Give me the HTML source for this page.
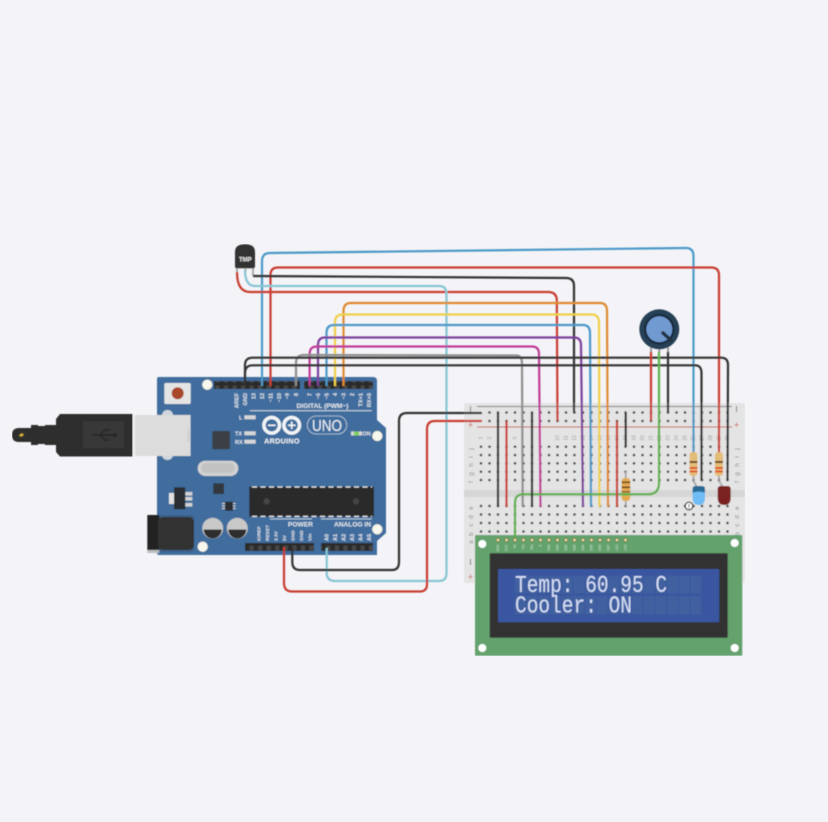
<!DOCTYPE html>
<html lang="en"><head><meta charset="utf-8"><title>Arduino temperature circuit</title>
<style>
html,body{margin:0;padding:0;background:#f4f4f8}
svg{display:block}
text{font-family:"Liberation Sans",sans-serif}
.w{fill:none;stroke-width:2.2;stroke-linecap:butt}
.p{fill:#e4e8ee;font-size:5.6px;text-anchor:end;font-weight:bold}
.n{fill:#9a9a9a;font-size:5px;text-anchor:middle}
.r{fill:#888;font-size:6.5px;text-anchor:middle}
.l{fill:#cfe0d2;font-size:3.2px;text-anchor:end}
.h{fill:#e4e8ee;font-size:6.6px;font-weight:bold}
</style></head><body>
<svg width="828" height="822" viewBox="0 0 828 822" xmlns="http://www.w3.org/2000/svg">
<defs>
<pattern id="gU" x="476.75" y="442.53" width="8.5" height="8.33" patternUnits="userSpaceOnUse"><circle cx="4.25" cy="4.17" r="1.25" fill="#333"/></pattern>
<pattern id="gL" x="476.75" y="501.75" width="8.5" height="8.5" patternUnits="userSpaceOnUse"><circle cx="4.25" cy="4.25" r="1.25" fill="#333"/></pattern>
<pattern id="gR" x="476.75" y="408.25" width="8.5" height="8.5" patternUnits="userSpaceOnUse"><circle cx="4.25" cy="4.25" r="1.25" fill="#333"/></pattern>
<pattern id="pin" x="0" y="0" width="8.53" height="8" patternUnits="userSpaceOnUse"><rect x="2.2" y="1.5" width="4.2" height="5" fill="#474747"/></pattern>
<pattern id="cell" x="515" y="0" width="11.7" height="40" patternUnits="userSpaceOnUse"><rect width="10.6" height="40" fill="#41609f"/></pattern>
<filter id="soft" x="0" y="0" width="100%" height="100%"><feGaussianBlur stdDeviation="0.4"/></filter>
</defs>
<rect width="828" height="822" fill="#f4f4f8"/>
<g filter="url(#soft)">

<!-- breadboard -->
<rect x="464" y="403" width="281" height="180" rx="2" fill="#e4e4e4"/>
<rect x="464" y="490" width="281" height="7" fill="#d6d6d6"/>
<path d="M477 406.500H732M477 570H732" stroke="#777" stroke-width="1"/>
<path d="M477 427H732M477 581H732" stroke="#c9544c" stroke-width="1"/>
<rect x="485" y="408.250" width="247" height="17" fill="url(#gR)"/>
<rect x="476.750" y="442.530" width="255" height="41.650" fill="url(#gU)"/>
<rect x="476.750" y="501.750" width="255" height="42.500" fill="url(#gL)"/>
<g fill="#777" font-size="9" text-anchor="middle">
<rect x="470" y="406" width="1" height="6"/><rect x="736" y="406" width="1" height="6"/><rect x="470" y="559" width="1" height="6"/><rect x="736" y="559" width="1" height="6"/>
<text x="470.500" y="428" fill="#c9544c">+</text><text x="736.500" y="428" fill="#c9544c">+</text><text x="470.500" y="580" fill="#c9544c">+</text>
</g>
<g class="r">
<text transform="translate(473,449) rotate(-90)" class="r">j</text><text transform="translate(473,457) rotate(-90)" class="r">i</text><text transform="translate(473,465) rotate(-90)" class="r">h</text><text transform="translate(473,474) rotate(-90)" class="r">g</text><text transform="translate(473,482) rotate(-90)" class="r">f</text>
<text transform="translate(473,508) rotate(-90)" class="r">e</text><text transform="translate(473,517) rotate(-90)" class="r">d</text><text transform="translate(473,525) rotate(-90)" class="r">c</text><text transform="translate(473,534) rotate(-90)" class="r">b</text><text transform="translate(473,542) rotate(-90)" class="r">a</text>
<text transform="translate(739,449) rotate(-90)" class="r">j</text><text transform="translate(739,457) rotate(-90)" class="r">i</text><text transform="translate(739,465) rotate(-90)" class="r">h</text><text transform="translate(739,474) rotate(-90)" class="r">g</text><text transform="translate(739,482) rotate(-90)" class="r">f</text>
<text transform="translate(739,508) rotate(-90)" class="r">e</text><text transform="translate(739,517) rotate(-90)" class="r">d</text><text transform="translate(739,525) rotate(-90)" class="r">c</text><text transform="translate(739,534) rotate(-90)" class="r">b</text><text transform="translate(739,542) rotate(-90)" class="r">a</text>
</g>
<g>
<text class="n" transform="translate(482.500,438) rotate(-90)">1</text><text class="n" transform="translate(491,438) rotate(-90)">2</text><text class="n" transform="translate(516.500,438) rotate(-90)">5</text><text class="n" transform="translate(559,438) rotate(-90)">10</text><text class="n" transform="translate(567.500,438) rotate(-90)">11</text><text class="n" transform="translate(576,438) rotate(-90)">12</text><text class="n" transform="translate(584.500,438) rotate(-90)">13</text><text class="n" transform="translate(593,438) rotate(-90)">14</text><text class="n" transform="translate(601.500,438) rotate(-90)">15</text><text class="n" transform="translate(610,438) rotate(-90)">16</text><text class="n" transform="translate(618.500,438) rotate(-90)">17</text><text class="n" transform="translate(627,438) rotate(-90)">18</text><text class="n" transform="translate(635.500,438) rotate(-90)">19</text><text class="n" transform="translate(644,438) rotate(-90)">20</text><text class="n" transform="translate(652.500,438) rotate(-90)">21</text><text class="n" transform="translate(661,438) rotate(-90)">22</text><text class="n" transform="translate(669.500,438) rotate(-90)">23</text><text class="n" transform="translate(678,438) rotate(-90)">24</text><text class="n" transform="translate(686.500,438) rotate(-90)">25</text><text class="n" transform="translate(695,438) rotate(-90)">26</text><text class="n" transform="translate(703.500,438) rotate(-90)">27</text><text class="n" transform="translate(712,438) rotate(-90)">28</text><text class="n" transform="translate(720.500,438) rotate(-90)">29</text><text class="n" transform="translate(729,438) rotate(-90)">30</text>
</g>

<!-- Arduino -->
<path d="M159 377H373Q377 377 377 381V420L386 428V533L377 541V555H159Q157 555 157 553V379Q157 377 159 377Z" fill="#3f6d9e"/>
<rect x="147.500" y="515" width="46.500" height="37" rx="3" fill="#3a5f88"/>
<rect x="147.300" y="515" width="12" height="35" fill="#222"/>
<rect x="147.300" y="550" width="12" height="3" fill="#b9bcc0"/>
<rect x="158" y="517" width="36" height="33" rx="5" fill="#333"/>
<rect x="164.300" y="383" width="26.400" height="21" rx="1.500" fill="#e4e4e4"/>
<circle cx="177.700" cy="393.300" r="6" fill="#a8472b"/>
<g fill="#f7f7ee" stroke="#d8d8c8" stroke-width=".5">
<circle cx="207.300" cy="384.700" r="5"/><circle cx="377.300" cy="436" r="5"/><circle cx="377.300" cy="529.300" r="5"/><circle cx="202.700" cy="546.700" r="5"/>
</g>
<rect x="214" y="381" width="86" height="8" fill="#2b2b2b"/><rect x="214" y="381" width="86" height="8" fill="url(#pin)"/>
<rect x="304" y="381" width="69" height="8" fill="#2b2b2b"/><rect x="304" y="381" width="69" height="8" fill="url(#pin)"/>
<rect x="245" y="543" width="69" height="8" fill="#2b2b2b"/><rect x="245" y="543" width="69" height="8" fill="url(#pin)"/>
<rect x="321" y="543" width="52" height="8" fill="#2b2b2b"/><rect x="321" y="543" width="52" height="8" fill="url(#pin)"/>

<g>
<text class="p" transform="translate(238.500,393) rotate(-90)">AREF</text><text class="p" transform="translate(247,393) rotate(-90)">GND</text><text class="p" transform="translate(255.500,393) rotate(-90)">13</text><text class="p" transform="translate(264,393) rotate(-90)">12</text><text class="p" transform="translate(272.500,393) rotate(-90)">~11</text><text class="p" transform="translate(281,393) rotate(-90)">~10</text><text class="p" transform="translate(289,393) rotate(-90)">~9</text><text class="p" transform="translate(298,393) rotate(-90)">8</text>
<text class="p" transform="translate(311.500,393) rotate(-90)">7</text><text class="p" transform="translate(320,393) rotate(-90)">~6</text><text class="p" transform="translate(328.500,393) rotate(-90)">~5</text><text class="p" transform="translate(337,393) rotate(-90)">4</text><text class="p" transform="translate(345.500,393) rotate(-90)">~3</text><text class="p" transform="translate(354,393) rotate(-90)">2</text><text class="p" transform="translate(362.500,393) rotate(-90)">TX+1</text><text class="p" transform="translate(371,393) rotate(-90)">RX+0</text>
<text class="p" style="text-anchor:start;font-size:4.800px" transform="translate(260.500,541) rotate(-90)">IOREF</text><text class="p" style="text-anchor:start;font-size:4.800px" transform="translate(269,541) rotate(-90)">RESET</text><text class="p" style="text-anchor:start;font-size:4.800px" transform="translate(277.500,541) rotate(-90)">3.3V</text><text class="p" style="text-anchor:start;font-size:4.800px" transform="translate(286,541) rotate(-90)">5V</text><text class="p" style="text-anchor:start;font-size:4.800px" transform="translate(294.500,541) rotate(-90)">GND</text><text class="p" style="text-anchor:start;font-size:4.800px" transform="translate(303,541) rotate(-90)">GND</text><text class="p" style="text-anchor:start;font-size:4.800px" transform="translate(311.500,541) rotate(-90)">Vin</text>
<text class="p" style="text-anchor:start" transform="translate(328.500,541) rotate(-90)">A0</text><text class="p" style="text-anchor:start" transform="translate(337,541) rotate(-90)">A1</text><text class="p" style="text-anchor:start" transform="translate(345.500,541) rotate(-90)">A2</text><text class="p" style="text-anchor:start" transform="translate(354,541) rotate(-90)">A3</text><text class="p" style="text-anchor:start" transform="translate(362.500,541) rotate(-90)">A4</text><text class="p" style="text-anchor:start" transform="translate(371,541) rotate(-90)">A5</text>
</g>
<text class="h" x="296.500" y="408">DIGITAL (PWM~)</text>
<path d="M250 410.700H371.700M270 519H312M321 519H371.700" stroke="#dfe5ea" stroke-width=".8"/>
<text class="h" x="288" y="526.500">POWER</text>
<text class="h" x="334" y="526.500">ANALOG IN</text>
<g fill="#d6d6d6"><rect x="244.300" y="415.300" width="11.400" height="4"/><rect x="244.300" y="431.300" width="11.400" height="4"/><rect x="244.300" y="439.700" width="11.400" height="4"/></g>
<g fill="#e4e8ee" font-size="5.500" font-weight="bold"><text x="239" y="419.500">L</text><text x="235" y="435.500">TX</text><text x="235" y="443.800">RX</text><text x="362.500" y="435.500">ON</text></g>
<rect x="351" y="431.500" width="11" height="4" fill="#d6d6d6"/><rect x="354" y="431.500" width="5" height="4" fill="#7fd05a"/>
<g fill="none" stroke="#f2f4f6" stroke-width="3.500"><circle cx="271.700" cy="425.300" r="7.800"/><circle cx="291.700" cy="425.300" r="7.800"/></g>
<path d="M268 425.300H275.500M288 425.300H295.500M291.700 421.500V429" stroke="#f2f4f6" stroke-width="1.600"/>
<text x="282" y="443.500" fill="#f2f4f6" font-size="7.200" font-weight="bold" text-anchor="middle" letter-spacing=".3">ARDUINO</text>
<rect x="307.300" y="416" width="39.400" height="18" rx="9" fill="none" stroke="#e8ecf0" stroke-width=".8" stroke-dasharray="1.500 .7"/>
<text x="327" y="431" fill="#eef1f4" font-size="16" text-anchor="middle" textLength="30" lengthAdjust="spacingAndGlyphs">UNO</text>
<rect x="212.300" y="431" width="17.700" height="18.300" rx="1" fill="#3b4047"/>
<rect x="197.700" y="460.700" width="40.600" height="15.300" rx="7.600" fill="#d2d2d2"/><rect x="201" y="463" width="34" height="10" rx="5" fill="#c2c2c2"/>
<rect x="213.300" y="483.300" width="10.700" height="10.700" fill="#33383e"/>
<rect x="169" y="493" width="6" height="11" fill="#e2e2e2"/>
<path d="M185 492H192.300V495.500H185ZM185 497H192.300V500.500H185ZM185 503H192.300V506.500H185Z" fill="#d4d4d4"/>
<rect x="174" y="487.300" width="11.300" height="22" fill="#2c2f33"/>
<path d="M222 503.500H235.500M222 506H235.500M222 508.500H235.500" stroke="#d8d8d8" stroke-width="1"/>
<rect x="225" y="501.700" width="8" height="9" fill="#2c2f33"/>
<rect x="249.300" y="486.700" width="124.700" height="30" fill="#2a2a2a"/>
<path d="M252 487H372M252 516.400H372" stroke="#e8e8e8" stroke-width="1.200" stroke-dasharray="5 3.500"/>
<circle cx="266.700" cy="501.300" r="3.200" fill="#444"/><circle cx="356" cy="501.300" r="3.200" fill="#444"/>
<g>
<circle cx="212.700" cy="528.300" r="10.500" fill="#c8c8c8"/><path d="M203.700 529.500H221.700A9 9 0 0 1 203.700 529.500Z" fill="#2f2f2f"/>
<circle cx="237.300" cy="528.300" r="10.500" fill="#c8c8c8"/><path d="M228.300 529.500H246.300A9 9 0 0 1 228.300 529.500Z" fill="#2f2f2f"/>
</g>

<!-- USB cable, drawn over the board -->
<rect x="162" y="410" width="11" height="50" rx="5" fill="#cfd6dd"/>
<rect x="133" y="415" width="57.500" height="41" fill="#dcdcdc"/>
<rect x="133" y="415" width="2" height="41" fill="#f0f0f0"/>
<rect x="188" y="428" width="1" height="14" fill="#c4c4c4"/>
<path d="M12 435Q12 428 19 428H31V425H38V426H45V425H56V419L60 414H132.500V456.500H60L56 452V445H45V444H38V445H31V442H19Q12 442 12 435Z" fill="#2e2e2e"/>
<rect x="83" y="421.500" width="41" height="26.500" fill="#383838"/>
<path d="M92 435H115M100 435L105 430H110M100 435L105 440H109" stroke="#262626" stroke-width="1.500" fill="none"/><circle cx="115" cy="435" r="2" fill="#262626"/>
<path d="M23 431L19 436H22L20 439L24 434H21Z" fill="#e8c030"/>

<!-- LEDs and resistors -->
<path d="M693.500 476L693.500 481L697 487M719 476V481L723 487M625.700 471V506" stroke="#9a9a9a" stroke-width="1.500" fill="none"/>
<g id="res">
<rect x="689.500" y="452" width="8" height="24" rx="3" fill="#e3bd78"/>
<rect x="689.500" y="461" width="8" height="2" fill="#6b4423"/><rect x="689.500" y="467" width="8" height="2" fill="#e0572d"/><rect x="689.500" y="470.500" width="8" height="2" fill="#e0572d"/>
<rect x="715" y="452" width="8" height="24" rx="3" fill="#e3bd78"/>
<rect x="715" y="461" width="8" height="2" fill="#6b4423"/><rect x="715" y="467" width="8" height="2" fill="#e0572d"/><rect x="715" y="470.500" width="8" height="2" fill="#e0572d"/>
<rect x="621.700" y="478" width="8.500" height="23" rx="3" fill="#e3a94f"/>
<rect x="621.700" y="481.500" width="8.500" height="1.600" fill="#6b4423"/><rect x="621.700" y="486.500" width="8.500" height="1.600" fill="#6b4423"/><rect x="621.700" y="491" width="8.500" height="1.600" fill="#8a6a3a"/>
</g>
<path d="M692.500 489Q692.500 486 695.500 486H702Q705 486 705 489V498Q705 505 698.700 505Q692.500 505 692.500 498Z" fill="#6fbdf5"/>
<path d="M692.500 492.700V489Q692.500 486 695.500 486H702Q705 486 705 489V492.700Q698.700 490.500 692.500 492.700Z" fill="#2b6a96"/>
<path d="M717.700 489Q717.700 486 720.700 486H727.700Q730.700 486 730.700 489V498Q730.700 505 724.200 505Q717.700 505 717.700 498Z" fill="#7a2222"/>

<!-- potentiometer -->
<path d="M651 347V352M659.300 347V352M668 347V352" stroke="#999" stroke-width="2"/>
<circle cx="659.300" cy="329.300" r="20" fill="#253f55"/>
<circle cx="659.300" cy="329.300" r="15" fill="#16273a"/>
<circle cx="659.300" cy="329.300" r="13" fill="#6f9ad0"/>
<path d="M663 333L670.700 340" stroke="#20303f" stroke-width="3.500" stroke-linecap="round"/>

<!-- TMP36 -->
<path d="M237 268V273M245.500 268V272M253 268V276" stroke="#aaa" stroke-width="2" fill="none"/>
<path d="M235 252Q235 244.300 245 244.300Q255 244.300 255 252V266.500Q255 268.300 253 268.300H237Q235 268.300 235 266.500Z" fill="#333"/>
<text x="245.300" y="261.500" fill="#eee" font-size="6" font-weight="bold" text-anchor="middle">TMP</text>

<!-- wires -->
<g class="w">
<path class="w" stroke="#4c99c8" d="M262 386V261Q262 253 270 253L686 248Q693.500 248 693.500 256V452"/>
<path class="w" stroke="#c93c33" d="M270.500 386V275Q270.500 267.500 278 267.500H711Q719 267.500 719 275V452"/>
<path class="w" stroke="#333" d="M253 276L566 278Q574 278 574 286V413"/>
<path class="w" stroke="#c93c33" d="M237 272Q237 292 250 292H548Q556.500 292 556.800 300L557.500 421"/>
<path class="w" stroke="#86c5d3" d="M245 270Q245 286 255 286H439Q446.500 286 446.500 294V573Q446.500 581 439 581H335Q326.700 581 326.700 573V548"/>
<path class="w" stroke="#df8a33" d="M343.500 386V311Q343.500 303 351 303H600Q607 303 607 311L608 507"/>
<path class="w" stroke="#efd04a" d="M335 386V322Q335 314.500 343 314.500H592Q598.500 314.500 599 322L599.500 507"/>
<path class="w" stroke="#4c99c8" d="M326.500 386V333Q326.500 325 334 325H583Q590 325 590 333L591 507"/>
<path class="w" stroke="#7d3f9d" d="M318 386V345Q318 337.500 325 337.500H574Q581 337.500 581 345L583 507"/>
<path class="w" stroke="#c03a97" d="M309.600 386V354Q309.600 346.500 317 346.500H532Q539 346.500 539 354L540.500 507"/>
<path class="w" stroke="#8e8e8e" d="M296 386V363Q296 355 304 355L516 355.500Q522 355.500 522 363L522.700 507"/>
<path class="w" stroke="#333" d="M245 386V365Q245 357.700 253 357.700H721Q728 357.700 728 365L727.500 481"/>
<path class="w" stroke="#333" d="M245 386V373Q245 365.300 253 365.300H695Q701.500 365.300 701.500 373V481"/>
<path class="w" stroke="#333" d="M292.300 547V562Q292.300 570 300 570H392Q399 570 399 562V421Q399 413 407 413H482"/>
<path class="w" stroke="#c93c33" d="M284 547V583Q284 591.500 292 591.500H420Q427 591.500 427 584V429Q427 421 435 421H482"/>
<path class="w" stroke="#5cb04a" d="M659 352V483Q659 494.300 648 494.300H523Q515 494.300 515 503V537"/>
<path class="w" stroke="#333" d="M498 413V507M532 413V507M625.700 413V447M668 352V413"/>
<path class="w" stroke="#c93c33" d="M506.500 421V507M617 421V507M651 352V421"/>
</g>
<circle cx="689" cy="506" r="3.800" fill="#fff" stroke="#222" stroke-width="1.200"/>
<text x="689" y="508.500" fill="#111" font-size="6.500" font-weight="bold" text-anchor="middle">!</text>

<!-- LCD -->
<rect x="475" y="535" width="267.300" height="120.700" rx="1" fill="#63a26d"/>
<rect x="489.700" y="553.300" width="238" height="84.400" rx="1" fill="#333"/>
<rect x="498" y="569" width="221.300" height="53.300" rx="1" fill="#3a56a0"/>
<rect x="515" y="576" width="187.200" height="17.500" fill="url(#cell)"/>
<rect x="515" y="596" width="187.200" height="18.500" fill="url(#cell)"/>
<g fill="#fff"><circle cx="482.300" cy="544" r="4"/><circle cx="734.700" cy="543" r="4"/><circle cx="482.300" cy="648" r="4"/><circle cx="734.700" cy="648" r="4"/></g>
<path d="M515 535V540" stroke="#5cb04a" stroke-width="2.200"/>
<g fill="#f1e6a8" stroke="#7a7a50" stroke-width="1">
<circle cx="498" cy="540" r="1.800"/><circle cx="506.500" cy="540" r="1.800"/><circle cx="515" cy="540" r="1.800"/><circle cx="523.500" cy="540" r="1.800"/><circle cx="532" cy="540" r="1.800"/><circle cx="540.500" cy="540" r="1.800"/><circle cx="549" cy="540" r="1.800"/><circle cx="557.500" cy="540" r="1.800"/><circle cx="566" cy="540" r="1.800"/><circle cx="574.500" cy="540" r="1.800"/><circle cx="583" cy="540" r="1.800"/><circle cx="591.500" cy="540" r="1.800"/><circle cx="600" cy="540" r="1.800"/><circle cx="608.500" cy="540" r="1.800"/><circle cx="617" cy="540" r="1.800"/><circle cx="625.500" cy="540" r="1.800"/>
</g>
<g>
<text class="l" transform="translate(499,544.500) rotate(-90)">GND</text><text class="l" transform="translate(507.500,544.500) rotate(-90)">VCC</text><text class="l" transform="translate(516,544.500) rotate(-90)">V0</text><text class="l" transform="translate(524.500,544.500) rotate(-90)">RS</text><text class="l" transform="translate(533,544.500) rotate(-90)">RW</text><text class="l" transform="translate(541.500,544.500) rotate(-90)">E</text><text class="l" transform="translate(550,544.500) rotate(-90)">DB0</text><text class="l" transform="translate(558.500,544.500) rotate(-90)">DB1</text><text class="l" transform="translate(567,544.500) rotate(-90)">DB2</text><text class="l" transform="translate(575.500,544.500) rotate(-90)">DB3</text><text class="l" transform="translate(584,544.500) rotate(-90)">DB4</text><text class="l" transform="translate(592.500,544.500) rotate(-90)">DB5</text><text class="l" transform="translate(601,544.500) rotate(-90)">DB6</text><text class="l" transform="translate(609.500,544.500) rotate(-90)">DB7</text><text class="l" transform="translate(618,544.500) rotate(-90)">LED</text><text class="l" transform="translate(626.500,544.500) rotate(-90)">LED</text>
</g>
<g fill="#d5def5" font-size="19.500">
<text transform="translate(515,592) scale(1,1.220)" style="font-family:'Liberation Mono',monospace" xml:space="preserve">Temp: 60.95 C</text>
<text transform="translate(515,612.700) scale(1,1.220)" style="font-family:'Liberation Mono',monospace" xml:space="preserve">Cooler: ON</text>
</g>
</g>
</svg>
</body></html>
